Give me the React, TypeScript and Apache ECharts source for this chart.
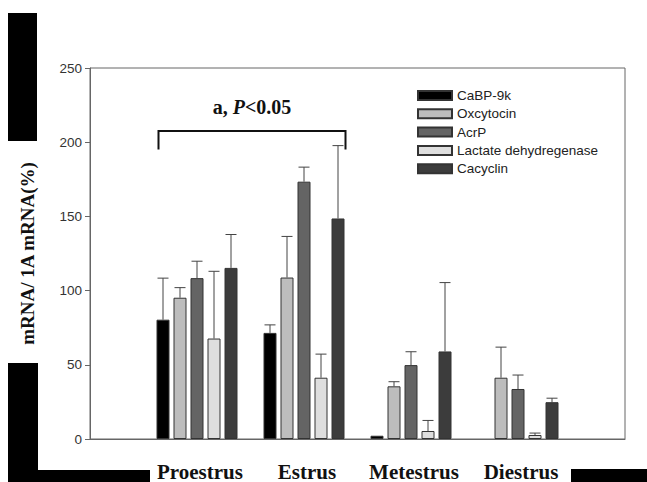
import React, { useEffect, useRef } from "react";
import * as echarts from "echarts";

const categories = ["Proestrus", "Estrus", "Metestrus", "Diestrus"];
const seriesNames = ["CaBP-9k", "Oxcytocin", "AcrP", "Lactate dehydregenase", "Cacyclin"];
const cabp = [80.4, 71.5, 2.2, 0];
const cabpErr = [108.4, 76.9, 2.2, 0];
const oxy = [95.2, 108.8, 35.5, 41.3];
const oxyErr = [102, 136.5, 38.6, 61.9];
const acrp = [108.4, 173.4, 49.8, 33.7];
const acrpErr = [119.8, 183.2, 58.8, 43.1];
const ldh = [67.7, 41.3, 5.4, 2.7];
const ldhErr = [113, 57.2, 12.5, 4.0];
const cacyclin = [115.3, 148.6, 59, 24.8];
const cacyclinErr = [137.8, 197.7, 105.4, 27.5];
const yTicks = [0, 50, 100, 150, 200, 250];
const bracketCats = [0, 1]; // index into categories
const bracketTop = 207.5;
const bracketFoot = 195;
const bracketLabelValue = 224;

const colors = ["#000000", "#bdbdbd", "#646464", "#dedede", "#3c3c3c"];
const values = [cabp, oxy, acrp, ldh, cacyclin];
const errs = [cabpErr, oxyErr, acrpErr, ldhErr, cacyclinErr];

const BAR_W = 13;
const BAR_STEP = 17;

export default function App() {
  const ref = useRef<HTMLDivElement>(null);
  useEffect(() => {
    if (!ref.current) return;
    const chart = echarts.init(ref.current, undefined, { renderer: "svg" });
    const axisCats = ["", ...categories, ""];

    const barSeries = seriesNames.map((name, i) => ({
      name,
      type: "bar",
      data: [
        "-",
        ...values[i].map((v) => (v > 0 ? v : { value: v, itemStyle: { borderWidth: 0 } })),
        "-",
      ],
      barWidth: BAR_W,
      barGap: ((BAR_STEP - BAR_W) / BAR_W) * 100 + "%",
      itemStyle: { color: colors[i], borderColor: "#333", borderWidth: 1 },
      z: 2,
    }));

    const errSeries = seriesNames.map((name, i) => ({
      name: name + "-err",
      type: "custom",
      z: 3,
      data: values[i].map((v, j) => [j + 1, v, errs[i][j]]),
      renderItem: (params: any, api: any) => {
        const v = api.value(1);
        const e = api.value(2);
        if (!(e > v)) return null;
        const off = (i - 2) * BAR_STEP;
        const x = api.coord([api.value(0), 0])[0] + off;
        const yV = api.coord([api.value(0), v])[1];
        const yE = api.coord([api.value(0), e])[1];
        const st = { stroke: "#444", lineWidth: 1 };
        return {
          type: "group",
          children: [
            { type: "line", shape: { x1: x, y1: yV, x2: x, y2: yE }, style: st },
            { type: "line", shape: { x1: x - 5.5, y1: yE, x2: x + 5.5, y2: yE }, style: st },
          ],
        };
      },
    }));

    const half = (5 * BAR_W + 4 * (BAR_STEP - BAR_W)) / 2;
    const bracketSeries = {
      name: "bracket",
      type: "custom",
      z: 4,
      data: [[bracketCats[0] + 1, bracketCats[1] + 1, bracketTop, bracketFoot, bracketLabelValue]],
      renderItem: (params: any, api: any) => {
        const x1 = api.coord([api.value(0), 0])[0] - half + 2;
        const x2 = api.coord([api.value(1), 0])[0] + half + 1;
        const yT = api.coord([api.value(0), api.value(2)])[1];
        const yF = api.coord([api.value(0), api.value(3)])[1];
        const yL = api.coord([api.value(0), api.value(4)])[1];
        const st = { stroke: "#111", lineWidth: 2, fill: null };
        return {
          type: "group",
          children: [
            {
              type: "polyline",
              shape: { points: [[x1, yF], [x1, yT], [x2, yT], [x2, yF]] },
              style: st,
            },
            {
              type: "text",
              style: {
                text: "{b|a, }{i|P}{b|<0.05}",
                x: (x1 + x2) / 2,
                y: yL,
                align: "center",
                verticalAlign: "middle",
                rich: {
                  b: { fontFamily: "Liberation Serif", fontWeight: "bold", fontSize: 20, fill: "#111" },
                  i: { fontFamily: "Liberation Serif", fontWeight: "bold", fontStyle: "italic", fontSize: 20, fill: "#111" },
                },
              },
            },
          ],
        };
      },
    };

    const option: any = {
      animation: false,
      backgroundColor: "#ffffff",
      textStyle: { fontFamily: "Liberation Sans" },
      grid: {
        left: 90,
        top: 68,
        right: 22,
        bottom: 41,
        show: true,
        borderColor: "#666",
        borderWidth: 1,
        backgroundColor: "transparent",
      },
      legend: {
        data: seriesNames,
        orient: "vertical",
        left: 412,
        top: 83,
        itemWidth: 34,
        itemHeight: 9,
        itemGap: 3.3,
        icon: "rect",
        textStyle: { fontFamily: "Liberation Sans", fontSize: 13.5, lineHeight: 15, color: "#222" },
      },
      xAxis: {
        type: "category",
        data: axisCats,
        boundaryGap: false,
        axisLine: { lineStyle: { color: "#666", width: 1 } },
        axisTick: { show: false },
        axisLabel: {
          interval: 0,
          margin: 22,
          fontFamily: "Liberation Serif",
          fontWeight: "bold",
          fontSize: 21,
          color: "#111",
          padding: [0, 0, 0, 6],
        },
      },
      yAxis: {
        type: "value",
        min: yTicks[0],
        max: yTicks[yTicks.length - 1],
        interval: yTicks[1] - yTicks[0],
        name: "mRNA/ 1A mRNA(%)",
        nameLocation: "middle",
        nameGap: 53,
        nameTextStyle: { fontFamily: "Liberation Serif", fontWeight: "bold", fontSize: 19, color: "#111" },
        splitLine: { show: false },
        axisLine: { show: true, lineStyle: { color: "#666", width: 1 } },
        axisTick: { show: true, length: 5, lineStyle: { color: "#666" } },
        axisLabel: { fontFamily: "Liberation Sans", fontSize: 13.5, color: "#333", margin: 8 },
      },
      graphic: [
        { type: "rect", shape: { x: 8, y: 13, width: 29, height: 128 }, style: { fill: "#000" } },
        { type: "rect", shape: { x: 8, y: 363, width: 30, height: 119 }, style: { fill: "#000" } },
        { type: "rect", shape: { x: 8, y: 470, width: 142, height: 12 }, style: { fill: "#000" } },
        { type: "rect", shape: { x: 571, y: 469, width: 76, height: 13 }, style: { fill: "#000" } },
      ],
      series: [...barSeries, ...errSeries, bracketSeries],
    };
    chart.setOption(option);
    return () => chart.dispose();
  }, []);
  return (
    <div
      ref={ref}
      style={{ position: "fixed", left: 0, top: 0, width: 647, height: 482, background: "#fff" }}
    />
  );
}
